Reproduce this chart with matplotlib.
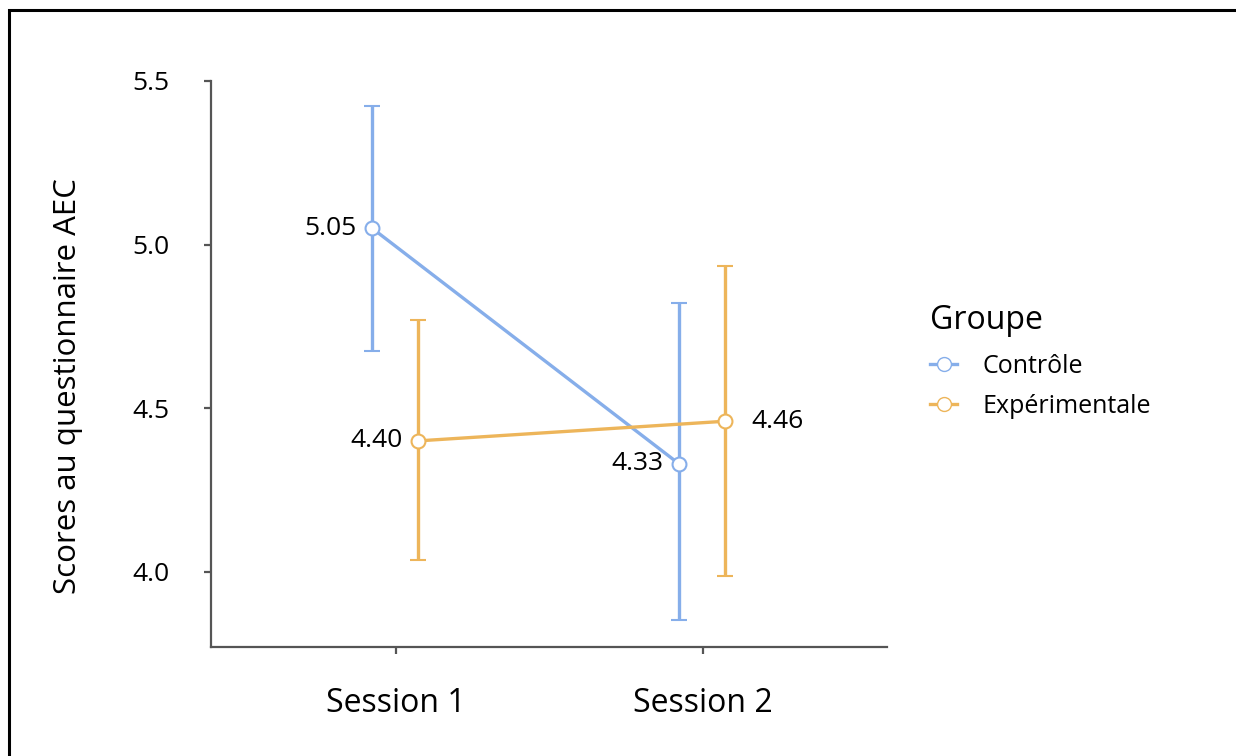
import matplotlib.pyplot as plt
from matplotlib.patches import Rectangle
from matplotlib.lines import Line2D

plt.rcParams['font.family'] = ['Open Sans', 'DejaVu Sans']

sessions = ['Session 1', 'Session 2']
groups = ['Contrôle', 'Expérimentale']
means = {'Contrôle': [5.05, 4.33], 'Expérimentale': [4.40, 4.46]}
lower = {'Contrôle': [4.675, 3.853], 'Expérimentale': [4.037, 3.988]}
upper = {'Contrôle': [5.425, 4.82], 'Expérimentale': [4.77, 4.935]}
colors = {'Contrôle': '#86AEEA', 'Expérimentale': '#EDB55A'}
offsets = {'Contrôle': -0.078, 'Expérimentale': 0.072}
label_side = {'Contrôle': ['left', 'left'], 'Expérimentale': ['left', 'right']}

fig = plt.figure(figsize=(12.36, 7.56), dpi=100)
fig.patches.append(Rectangle((9 / 1236, -0.1), 1.2, 1 - 10 / 756 + 0.1,
                             transform=fig.transFigure, fill=False,
                             edgecolor='black', linewidth=2.2))
ax = fig.add_axes([211 / 1236, 1 - 647 / 756, (887 - 211) / 1236, (647 - 81) / 756])

for g in groups:
    xs = [i + 1 + offsets[g] for i in range(len(sessions))]
    m = means[g]
    yerr = [[m[i] - lower[g][i] for i in range(2)], [upper[g][i] - m[i] for i in range(2)]]
    ax.errorbar(xs, m, yerr=yerr, color=colors[g], linewidth=2.4, elinewidth=2.4,
                capsize=6, capthick=2.4, marker='o', markersize=10,
                markerfacecolor='white', markeredgecolor=colors[g], markeredgewidth=1.5,
                zorder=3)
    for i in range(2):
        if label_side[g][i] == 'left':
            ax.annotate(f'{m[i]:.2f}', (xs[i], m[i]), xytext=(-11, 0),
                        textcoords='offset points', ha='right', va='center', fontsize=19)
        else:
            ax.annotate(f'{m[i]:.2f}', (xs[i], m[i]), xytext=(19, 0),
                        textcoords='offset points', ha='left', va='center', fontsize=19)

ax.set_xlim(0.397, 2.6)
ax.set_ylim(3.77, 5.5)
ax.set_xticks([1, 2])
ax.set_xticklabels(sessions, fontsize=23)
ax.set_yticks([4.0, 4.5, 5.0, 5.5])
ax.set_yticklabels(['4.0', '4.5', '5.0', '5.5'], fontsize=19)
ax.set_ylabel('Scores au questionnaire AEC', fontsize=22.5)
ax.yaxis.set_label_coords(-0.19, 0.461)
for s in ['top', 'right']:
    ax.spines[s].set_visible(False)
for s in ['left', 'bottom']:
    ax.spines[s].set_color('#555555')
    ax.spines[s].set_linewidth(1.6)
ax.tick_params(axis='both', colors='#555555', labelcolor='black', length=5, width=1.6)
ax.tick_params(axis='x', pad=24)
ax.tick_params(axis='y', pad=25)

handles = [Line2D([], [], color=colors[g], linewidth=2.4, marker='o', markersize=10,
                  markerfacecolor='white', markeredgecolor=colors[g]) for g in groups]
leg = ax.legend(handles, groups, title='Groupe', loc='upper left',
                bbox_to_anchor=(1.03, 0.645), frameon=False, fontsize=18,
                title_fontsize=23, handlelength=1.1, handletextpad=1.0, labelspacing=0.6)
leg._legend_box.align = 'left'
leg._legend_box.sep = 12

fig.savefig('out.png', dpi=100)
